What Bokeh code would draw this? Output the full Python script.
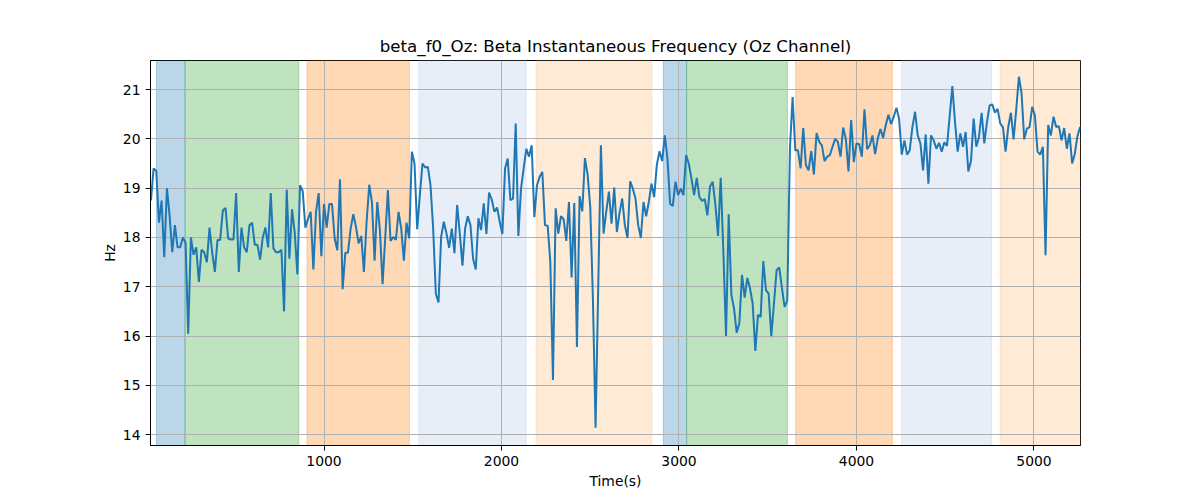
from bokeh.plotting import figure
from bokeh.models import FixedTicker, ColumnDataSource, Range1d
from bokeh.embed import file_html
from bokeh.resources import INLINE

# ---- data ----
t_start = 25
t_step = 15
freq = [
    # segment 1
    18.75, 19.4, 19.35, 18.3, 18.75, 17.6, 19.0, 18.45, 17.7, 18.25, 17.8, 17.8, 18.0, 17.9, 16.05,
    18.0, 17.65, 17.8, 17.1, 17.75, 17.7, 17.5, 18.2, 17.7, 17.3, 17.95, 17.95, 18.55, 18.6, 17.98,
    17.96, 17.96, 18.9, 17.3, 18.2, 17.8, 17.7, 18.25, 18.3, 17.85, 17.85, 17.55, 18.0, 18.2, 17.8,
    # segment 2
    18.9, 17.78, 17.7, 17.7, 17.75, 16.5, 18.97, 17.57, 18.57, 18.1, 17.25, 19.06, 18.94, 18.2, 18.38,
    18.52, 17.35, 18.52, 18.9, 17.62, 18.68, 18.2, 18.68, 18.68, 17.98, 17.74, 19.18, 16.95, 17.69, 17.69,
    18.18, 18.47, 18.22, 17.88, 18.03, 17.3, 18.32, 19.07, 18.72, 17.53, 18.72, 18.15, 17.05,
    # segment 3
    18.0, 18.96, 17.93, 18.01, 17.95, 18.52, 18.18, 17.53, 18.3, 17.98, 19.74, 19.5, 18.17, 18.86, 19.5,
    19.42, 19.43, 19.06, 18.18, 16.86, 16.68, 18.01, 18.32, 18.08, 17.79, 18.18, 17.68, 18.66, 18.08, 17.43,
    18.18, 18.43, 18.25, 17.57, 17.35, 18.39, 18.15, 18.69, 18.07, 18.91, 18.77, 18.52, 18.61, 18.32, 18.07,
    # segment 4
    19.4, 19.6, 18.76, 18.79, 20.31, 18.03, 18.99, 19.4, 19.8, 19.64, 19.87, 18.41, 19.06, 19.23, 19.33,
    18.25, 18.24, 17.51, 15.11, 18.59, 18.08, 18.43, 18.37, 17.93, 18.72, 17.19, 18.7, 15.78, 18.84, 18.53,
    19.61, 19.28, 18.62, 16.76, 14.14, 17.0, 19.87, 18.08, 18.52, 18.93, 18.28, 19.01, 18.11,
    # segment 5
    18.5, 18.79, 18.25, 17.99, 19.14, 18.99, 18.79, 18.25, 17.99, 18.72, 18.43, 18.72, 19.09, 18.82, 19.47,
    19.75, 19.55, 20.07, 19.6, 18.68, 18.64, 19.13, 18.86, 18.99, 18.86, 19.67, 19.5, 19.2, 18.86, 19.21,
    18.82, 18.74, 18.78, 18.45, 19.04, 19.13, 18.66, 18.03, 19.21, 17.71, 16.0, 18.47, 16.84, 16.56,
    # segment 6
    16.07, 16.26, 17.24, 16.78, 17.18, 16.97, 16.66, 15.7, 16.43, 16.39, 17.52, 16.93, 16.86, 16.0, 16.66,
    17.34, 17.39, 16.97, 16.59, 16.72, 19.8, 20.85, 19.77, 19.77, 19.4, 20.22, 19.47, 19.36, 19.75, 19.28,
    20.12, 19.94, 19.87, 19.55, 19.64, 19.67, 19.84, 20.0, 19.94, 19.64, 20.23, 20.0, 19.34, 20.38,
    # segment 7
    19.53, 19.91, 19.89, 19.64, 20.6, 19.79, 19.87, 20.07, 19.69, 20.01, 20.2, 20.02, 20.28, 20.49, 20.3,
    20.45, 20.63, 20.41, 19.68, 19.97, 19.68, 19.77, 20.24, 20.55, 20.07, 19.91, 19.36, 20.09, 19.09, 20.07,
    19.97, 19.8, 19.92, 19.74, 19.93, 19.86, 20.46, 21.07, 20.34, 19.74, 20.11, 19.84, 20.14, 19.34,
    # segment 8
    19.55, 20.41, 19.84, 20.04, 20.53, 19.91, 20.34, 20.68, 20.7, 20.53, 20.61, 20.31, 20.24, 19.74, 20.24,
    20.53, 19.99, 20.6, 21.26, 20.92, 19.99, 20.21, 20.24, 20.65, 20.48, 19.74, 19.68, 19.84, 17.64, 20.28,
    20.07, 20.45, 20.24, 20.26, 19.97, 20.22, 19.8, 20.11, 19.5, 19.7, 20.06, 20.24,
]
times = [t_start + t_step * i for i in range(len(freq))]

band_start = [56, 217, 904, 1534, 2195, 2912, 3043, 3657, 4254, 4809]
band_end = [217, 858, 1481, 2139, 2847, 3043, 3611, 4202, 4761, 5300]
band_kind = ["A", "B", "C", "D", "E", "A", "B", "C", "D", "E"]

x_ticks = [1000, 2000, 3000, 4000, 5000]
y_ticks = [14, 15, 16, 17, 18, 19, 20, 21]

# ---- styles ----
kind_color = {"A": "#1f77b4", "B": "#2ca02c", "C": "#ff7f0e", "D": "#aec7e8", "E": "#ffbb78"}
FONT = "DejaVu Sans"

p = figure(
    output_backend="svg", toolbar_location=None,
    frame_width=930, frame_height=385,
    min_border_left=150, min_border_right=104, min_border_top=60, min_border_bottom=39,
    x_range=Range1d(times[0] - 2.5, times[-1] + 2), y_range=Range1d(13.78, 21.59),
    title="beta_f0_Oz: Beta Instantaneous Frequency (Oz Channel)",
)

band_src = ColumnDataSource(dict(
    left=band_start, right=band_end,
    color=[kind_color[k] for k in band_kind],
))
p.quad(left="left", right="right", bottom=0, top=30, source=band_src,
       fill_color="color", fill_alpha=0.3, line_color="color", line_alpha=0.3,
       line_width=1, level="image")

p.line(times, freq, line_color="#1f77b4", line_width=2)

p.title.align = "center"
p.title.text_font = FONT
p.title.text_font_size = "16.7px"
p.title.text_font_style = "normal"
p.title.text_color = "black"

for ax in (p.xaxis[0], p.yaxis[0]):
    ax.axis_label_text_font = FONT
    ax.axis_label_text_font_size = "13.9px"
    ax.axis_label_text_font_style = "normal"
    ax.axis_label_text_color = "black"
    ax.major_label_text_font = FONT
    ax.major_label_text_font_size = "13.9px"
    ax.major_label_text_color = "black"
    ax.axis_line_color = "black"
    ax.major_tick_line_color = "black"
    ax.major_tick_out = 5
    ax.major_tick_in = 0
    ax.minor_tick_line_color = None

p.xaxis.axis_label = "Time(s)"
p.yaxis.axis_label = "Hz"
p.xaxis.ticker = FixedTicker(ticks=x_ticks)
p.yaxis.ticker = FixedTicker(ticks=y_ticks)
p.xaxis.axis_label_standoff = 4
p.yaxis.axis_label_standoff = 2

p.xgrid.grid_line_color = "#b0b0b0"
p.ygrid.grid_line_color = "#b0b0b0"
p.xgrid.grid_line_width = 1
p.ygrid.grid_line_width = 1
p.xgrid.ticker = FixedTicker(ticks=x_ticks)
p.ygrid.ticker = FixedTicker(ticks=y_ticks)

p.outline_line_color = "black"
p.outline_line_width = 1
p.background_fill_color = "white"
p.border_fill_color = "white"

open("out.html", "w").write(file_html(p, INLINE))
